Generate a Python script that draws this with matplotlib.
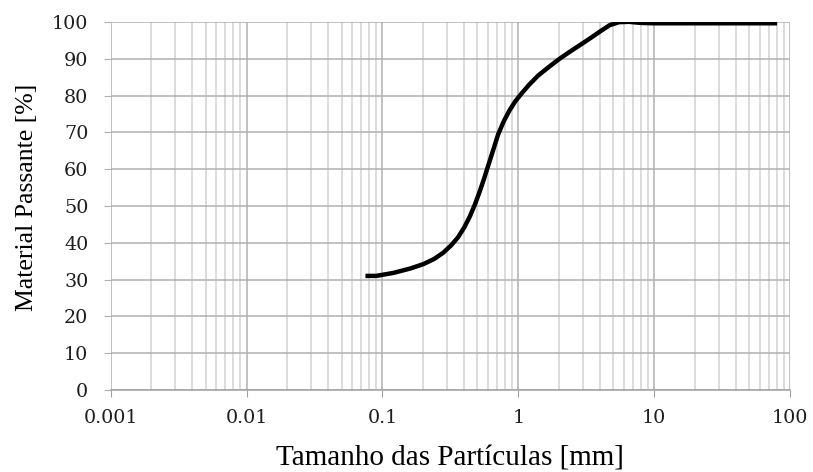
import matplotlib
matplotlib.use("Agg")
import matplotlib.pyplot as plt
from matplotlib.ticker import LogLocator, FixedLocator, NullFormatter

# Granulometric curve
tamanho = [0.075, 0.09, 0.12, 0.16, 0.2, 0.24, 0.28, 0.32, 0.36, 0.40, 0.44,
           0.48, 0.52, 0.56, 0.60, 0.65, 0.71, 0.78, 0.86, 0.95, 1.05, 1.2,
           1.4, 1.7, 2.0, 2.4, 2.9, 3.4, 4.0, 4.7, 5.5, 6.5, 8.0, 10.0, 80.0]
passante = [31.0, 31.0, 31.8, 33.0, 34.2, 35.6, 37.3, 39.3, 41.5, 44.2, 47.2,
            50.5, 54.0, 57.5, 61.0, 65.0, 69.5, 73.0, 76.0, 78.5, 80.5, 83.0,
            85.5, 88.0, 90.0, 92.0, 94.0, 95.7, 97.5, 99.2, 100.0, 100.1, 99.8,
            99.7, 99.7]

x_ticks = [0.001, 0.01, 0.1, 1, 10, 100]
x_labels = ["0.001", "0.01", "0.1", "1", "10", "100"]
y_ticks = list(range(0, 101, 10))

plt.rcParams["font.family"] = ["Liberation Serif", "DejaVu Serif"]

fig = plt.figure(figsize=(8.13, 4.72), dpi=100)
ax = fig.add_axes([0.136, 0.174, 0.836, 0.779])

ax.plot(tamanho, passante, color="black", linewidth=3.2,
        solid_capstyle="butt", solid_joinstyle="round", zorder=3)

ax.set_xscale("log")
ax.set_xlim(0.001, 100)
ax.set_ylim(0, 100)

ax.xaxis.set_major_locator(FixedLocator(x_ticks))
ax.set_xticklabels(x_labels)
ax.xaxis.set_minor_locator(LogLocator(base=10, subs=range(2, 10)))
ax.xaxis.set_minor_formatter(NullFormatter())
ax.set_yticks(y_ticks)
ax.set_yticklabels([str(v) for v in y_ticks])

ax.grid(True, which="major", color="#b0b0b0", linewidth=1.1)
ax.grid(True, which="minor", axis="x", color="#d2d2d2", linewidth=1.1)

for s in ["top", "right", "left"]:
    ax.spines[s].set_visible(False)
ax.spines["bottom"].set_color("#a0a0a0")
ax.spines["bottom"].set_linewidth(1.1)

ax.tick_params(axis="both", labelsize=13.8, labelcolor="#1e1e1e",
               labelfontfamily="DejaVu Serif")
ax.tick_params(axis="x", which="major", length=5, color="#a0a0a0", pad=9)
ax.tick_params(axis="x", which="minor", length=0)
ax.tick_params(axis="y", length=5, color="#b0b0b0", pad=11)

ax.set_xlabel("Tamanho das Partículas [mm]", fontsize=21, labelpad=13)
ax.set_ylabel("Material Passante [%]", fontsize=18.5)
ax.yaxis.set_label_coords(-0.107, 0.524)

fig.savefig("out.png", dpi=100)
